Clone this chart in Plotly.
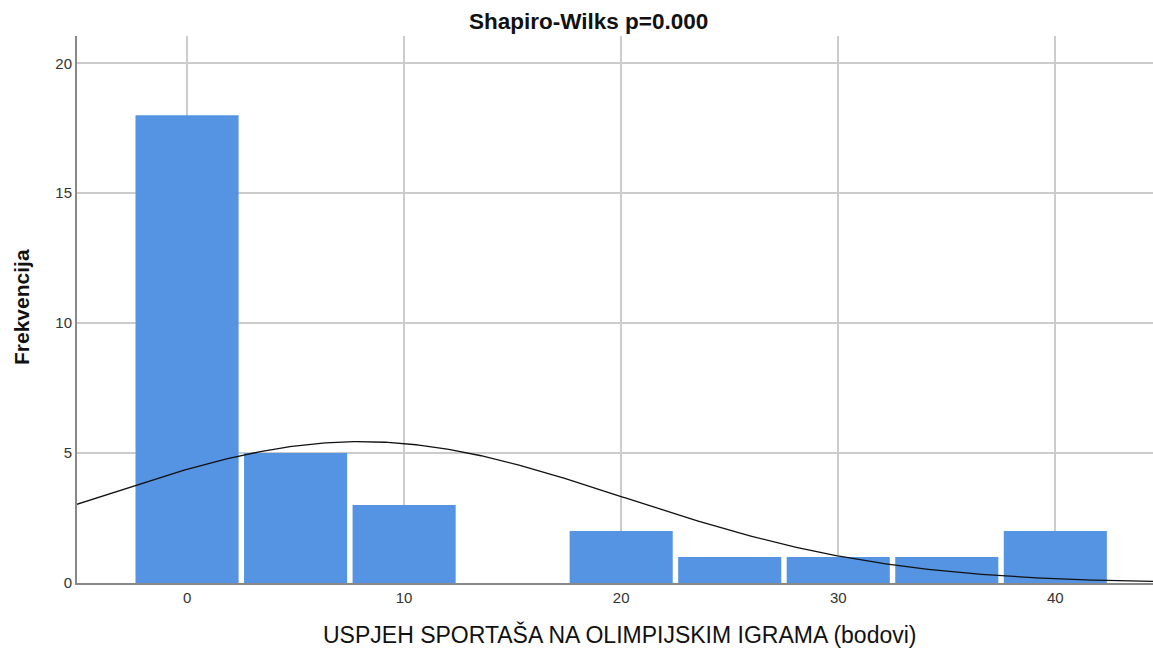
import numpy as np
import plotly.graph_objects as go

# Histogram bins (bin centres, width 5 points) and their frequencies
bin_centers = [0, 5, 10, 15, 20, 25, 30, 35, 40]
frequencies = [18, 5, 3, 0, 2, 1, 1, 1, 2]
bin_width = 5

# Summary statistics used for the fitted normal curve
n_total = sum(frequencies)
mean_val = 8.0
sd_val = 12.1

x_ticks = [0, 10, 20, 30, 40]
y_ticks = [0, 5, 10, 15, 20]

xs = np.linspace(-6, 46, 400)
curve = n_total * bin_width * np.exp(-0.5 * ((xs - mean_val) / sd_val) ** 2) / (sd_val * np.sqrt(2 * np.pi))

fig = go.Figure()
fig.add_trace(go.Bar(
    x=bin_centers, y=frequencies, width=[bin_width * 0.95] * len(bin_centers),
    marker=dict(color="#5594e3", line=dict(width=0)),
    showlegend=False, hoverinfo="x+y",
))
fig.add_trace(go.Scatter(
    x=xs, y=curve, mode="lines", line=dict(color="#111111", width=1.3),
    showlegend=False, hoverinfo="skip",
))

font_family = "Liberation Sans, Arial, sans-serif"

fig.update_layout(
    width=1153, height=649,
    margin=dict(l=77, r=0, t=36, b=66),
    paper_bgcolor="white", plot_bgcolor="white",
    font=dict(family=font_family, color="#222222", size=15),
    xaxis=dict(
        range=[-5.07, 44.5], tickvals=x_ticks, ticktext=[str(v) for v in x_ticks],
        showgrid=True, gridcolor="#cccccc", gridwidth=1.5,
        showline=True, linecolor="#888888", linewidth=2,
        ticks="", zeroline=False, tickfont=dict(size=15, color="#333333"),
    ),
    yaxis=dict(
        range=[0, 21.05], tickvals=y_ticks, ticktext=[str(v) for v in y_ticks],
        showgrid=True, gridcolor="#cccccc", gridwidth=1.5,
        showline=True, linecolor="#888888", linewidth=2,
        ticks="", zeroline=False, tickfont=dict(size=15, color="#333333"),
    ),
    annotations=[
        dict(text="<b>Shapiro-Wilks p=0.000</b>", xref="paper", yref="paper",
             x=(588 - 77) / 1076, y=1, yshift=15, showarrow=False,
             xanchor="center", yanchor="middle", font=dict(size=22.5, color="#111111")),
        dict(text="<b>Frekvencija</b>", xref="paper", yref="paper",
             x=0, xshift=-56, y=(583 - 307) / 547, showarrow=False, textangle=-90,
             xanchor="center", yanchor="middle", font=dict(size=21, color="#111111")),
        dict(text="USPJEH SPORTAŠA NA OLIMPIJSKIM IGRAMA (bodovi)", xref="paper", yref="paper",
             x=(620 - 77) / 1076, y=0, yshift=-51, showarrow=False,
             xanchor="center", yanchor="middle", font=dict(size=23, color="#111111")),
    ],
)

fig.write_html("out.html")
